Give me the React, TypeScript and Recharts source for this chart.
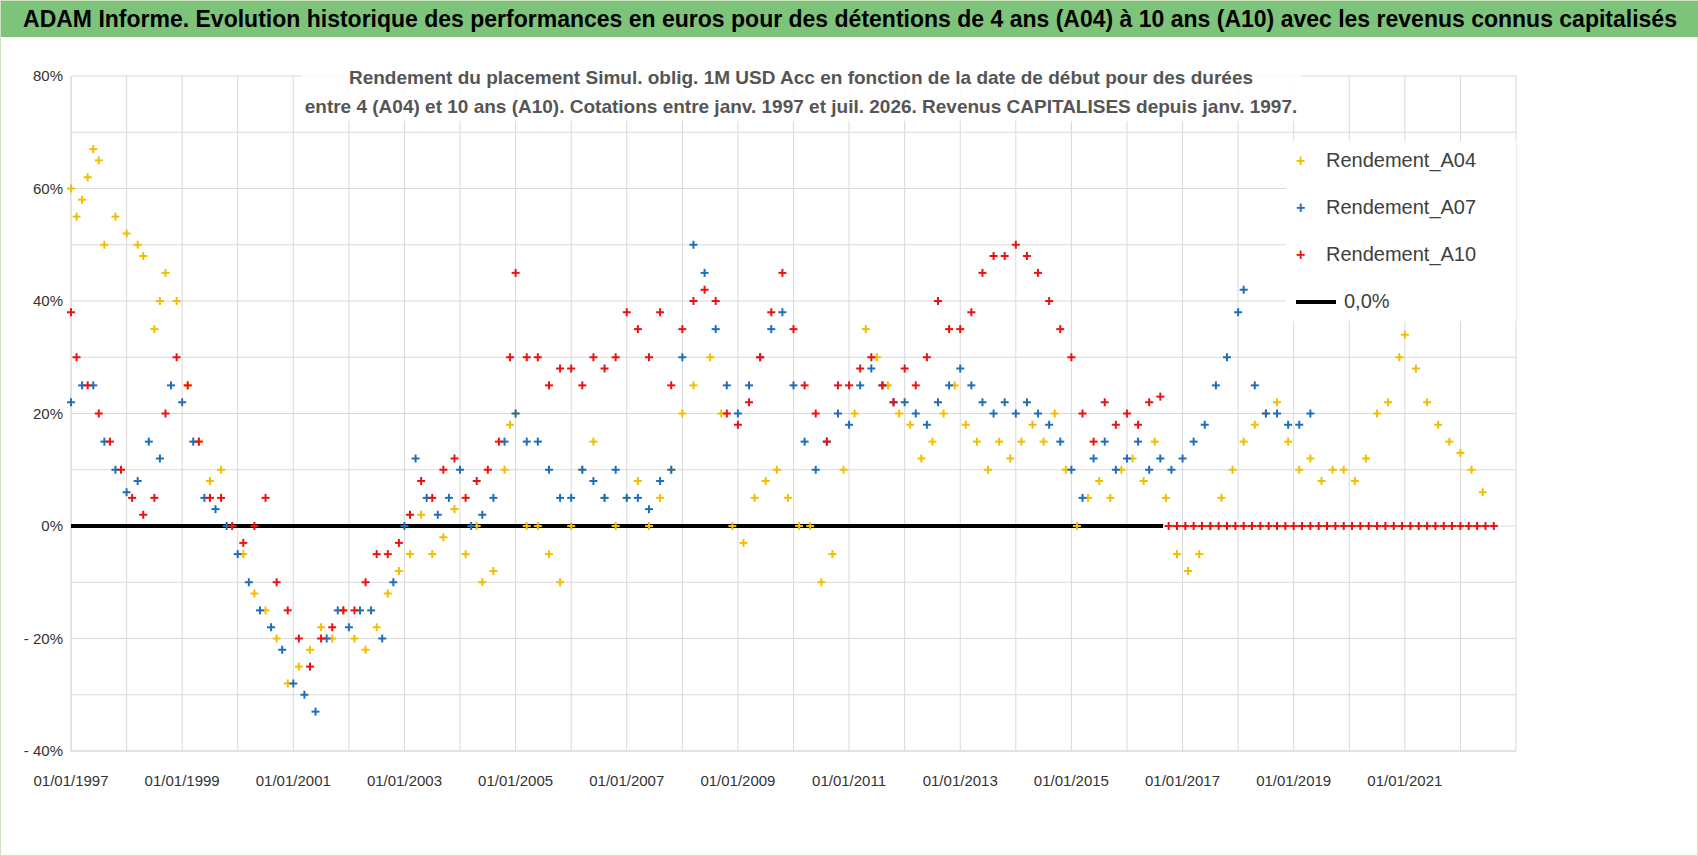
import React from 'react';
import { ScatterChart, Scatter, XAxis, YAxis, CartesianGrid } from 'recharts';

const a04X = [1997.0,1997.1,1997.2,1997.3,1997.4,1997.5,1997.6,1997.8,1998.0,1998.2,1998.3,1998.5,1998.6,1998.7,1998.9,1999.1,1999.3,1999.5,1999.7,1999.9,2000.1,2000.3,2000.5,2000.7,2000.9,2001.1,2001.3,2001.5,2001.7,2001.9,2002.1,2002.3,2002.5,2002.7,2002.9,2003.1,2003.3,2003.5,2003.7,2003.9,2004.1,2004.3,2004.4,2004.6,2004.8,2004.9,2005.0,2005.2,2005.4,2005.6,2005.8,2006.0,2006.2,2006.4,2006.6,2006.8,2007.0,2007.2,2007.4,2007.6,2007.8,2008.0,2008.2,2008.5,2008.7,2008.9,2009.1,2009.3,2009.5,2009.7,2009.9,2010.1,2010.3,2010.5,2010.7,2010.9,2011.1,2011.3,2011.5,2011.7,2011.9,2012.1,2012.3,2012.5,2012.7,2012.9,2013.1,2013.3,2013.5,2013.7,2013.9,2014.1,2014.3,2014.5,2014.7,2014.9,2015.1,2015.3,2015.5,2015.7,2015.9,2016.1,2016.3,2016.5,2016.7,2016.9,2017.1,2017.3,2017.5,2017.7,2017.9,2018.1,2018.3,2018.5,2018.7,2018.9,2019.1,2019.3,2019.5,2019.7,2019.9,2020.1,2020.3,2020.5,2020.7,2020.9,2021.0,2021.2,2021.4,2021.6,2021.8,2022.0,2022.2,2022.4];
const a04Y = [60,55,58,62,67,65,50,55,52,50,48,35,40,45,40,25,15,8,10,0,-5,-12,-15,-20,-28,-25,-22,-18,-20,-15,-20,-22,-18,-12,-8,-5,2,-5,-2,3,-5,0,-10,-8,10,18,20,0,0,-5,-10,0,10,15,5,0,5,8,0,5,10,20,25,30,20,0,-3,5,8,10,5,0,0,-10,-5,10,20,35,30,25,20,18,12,15,20,25,18,15,10,15,12,15,18,15,20,10,0,5,8,5,10,12,8,15,5,-5,-8,-5,0,5,10,15,18,20,22,15,10,12,8,10,10,8,12,20,22,30,34,28,22,18,15,13,10,6];

const a07X = [1997.0,1997.2,1997.4,1997.6,1997.8,1998.0,1998.2,1998.4,1998.6,1998.8,1999.0,1999.2,1999.4,1999.6,1999.8,2000.0,2000.2,2000.4,2000.6,2000.8,2001.0,2001.2,2001.4,2001.6,2001.8,2002.0,2002.2,2002.4,2002.6,2002.8,2003.0,2003.2,2003.4,2003.6,2003.8,2004.0,2004.2,2004.4,2004.6,2004.8,2005.0,2005.2,2005.4,2005.6,2005.8,2006.0,2006.2,2006.4,2006.6,2006.8,2007.0,2007.2,2007.4,2007.6,2007.8,2008.0,2008.2,2008.4,2008.6,2008.8,2009.0,2009.2,2009.4,2009.6,2009.8,2010.0,2010.2,2010.4,2010.6,2010.8,2011.0,2011.2,2011.4,2011.6,2011.8,2012.0,2012.2,2012.4,2012.6,2012.8,2013.0,2013.2,2013.4,2013.6,2013.8,2014.0,2014.2,2014.4,2014.6,2014.8,2015.0,2015.2,2015.4,2015.6,2015.8,2016.0,2016.2,2016.4,2016.6,2016.8,2017.0,2017.2,2017.4,2017.6,2017.8,2018.0,2018.1,2018.3,2018.5,2018.7,2018.9,2019.1,2019.3];
const a07Y = [22,25,25,15,10,6,8,15,12,25,22,15,5,3,0,-5,-10,-15,-18,-22,-28,-30,-33,-20,-15,-18,-15,-15,-20,-10,0,12,5,2,5,10,0,2,5,15,20,15,15,10,5,5,10,8,5,10,5,5,3,8,10,30,50,45,35,25,20,25,30,35,38,25,15,10,15,20,18,25,28,25,22,22,20,18,22,25,28,25,22,20,22,20,22,20,18,15,10,5,12,15,10,12,15,10,12,10,12,15,18,25,30,38,42,25,20,20,18,18,20];

const a10X = [1997.0,1997.1,1997.3,1997.5,1997.7,1997.9,1998.1,1998.3,1998.5,1998.7,1998.9,1999.1,1999.3,1999.5,1999.7,1999.9,2000.1,2000.3,2000.5,2000.7,2000.9,2001.1,2001.3,2001.5,2001.7,2001.9,2002.1,2002.3,2002.5,2002.7,2002.9,2003.1,2003.3,2003.5,2003.7,2003.9,2004.1,2004.3,2004.5,2004.7,2004.9,2005.0,2005.2,2005.4,2005.6,2005.8,2006.0,2006.2,2006.4,2006.6,2006.8,2007.0,2007.2,2007.4,2007.6,2007.8,2008.0,2008.2,2008.4,2008.6,2008.8,2009.0,2009.2,2009.4,2009.6,2009.8,2010.0,2010.2,2010.4,2010.6,2010.8,2011.0,2011.2,2011.4,2011.6,2011.8,2012.0,2012.2,2012.4,2012.6,2012.8,2013.0,2013.2,2013.4,2013.6,2013.8,2014.0,2014.2,2014.4,2014.6,2014.8,2015.0,2015.2,2015.4,2015.6,2015.8,2016.0,2016.2,2016.4,2016.6,
2016.75,2016.9,2017.05,2017.2,2017.35,2017.5,2017.65,2017.8,2017.95,2018.1,2018.25,2018.4,2018.55,2018.7,2018.85,2019.0,2019.15,2019.3,2019.45,2019.6,2019.75,2019.9,2020.05,2020.2,2020.35,2020.5,2020.65,2020.8,2020.95,2021.1,2021.25,2021.4,2021.55,2021.7,2021.85,2022.0,2022.15,2022.3,2022.45,2022.6];
const a10Y = [38,30,25,20,15,10,5,2,5,20,30,25,15,5,5,0,-3,0,5,-10,-15,-20,-25,-20,-18,-15,-15,-10,-5,-5,-3,2,8,5,10,12,5,8,10,15,30,45,30,30,25,28,28,25,30,28,30,38,35,30,38,25,35,40,42,40,20,18,22,30,38,45,35,25,20,15,25,25,28,30,25,22,28,25,30,40,35,35,38,45,48,48,50,48,45,40,35,30,20,15,22,18,20,18,22,23,
0,0,0,0,0,0,0,0,0,0,0,0,0,0,0,0,0,0,0,0,0,0,0,0,0,0,0,0,0,0,0,0,0,0,0,0,0,0,0,0];

const zeroX = [1997, 2016.65];
const zeroY = [0, 0];
const xTicks = [1997,1998,1999,2000,2001,2002,2003,2004,2005,2006,2007,2008,2009,2010,2011,2012,2013,2014,2015,2016,2017,2018,2019,2020,2021,2022,2023];
const yTicks = [-40,-30,-20,-10,0,10,20,30,40,50,60,70,80];

const zip = (xs: number[], ys: number[]) => xs.map((x, i) => ({ x, y: ys[i] }));

const plus = (color: string) => (p: any) => {
  const { cx, cy } = p;
  if (cx == null || cy == null) return <g />;
  return (
    <g stroke={color} strokeWidth={2}>
      <line x1={cx - 4} y1={cy} x2={cx + 4} y2={cy} />
      <line x1={cx} y1={cy - 4} x2={cx} y2={cy + 4} />
    </g>
  );
};

const font = "'Liberation Sans Narrow', 'Arial Narrow', 'Liberation Sans', sans-serif";

const fmtY = (v: number) => {
  if (v % 20 !== 0) return '';
  return v < 0 ? `- ${-v}%` : `${v}%`;
};
const fmtX = (v: number) => ((v - 1997) % 2 === 0 && v < 2023 ? `01/01/${v}` : '');

export default function App() {
  const legend = [
    { label: 'Rendement_A04', color: '#f5bd00' },
    { label: 'Rendement_A07', color: '#1f6fb8' },
    { label: 'Rendement_A10', color: '#ee1111' },
  ];
  return (
    <div style={{ position: 'absolute', left: 0, top: 0, width: 1698, height: 856, background: '#fff', fontFamily: font, border: '1px solid #cfe3c0', boxSizing: 'border-box' }}>
      <div style={{ position: 'absolute', left: 0, top: 0, width: 1698, height: 36, background: '#7dc47a', color: '#000', fontWeight: 'bold', fontSize: 23, textAlign: 'center', lineHeight: '36px' }}>
        ADAM Informe. Evolution historique des performances en euros pour des détentions de 4 ans (A04) à 10 ans (A10) avec les revenus connus capitalisés
      </div>
      <div style={{ position: 'absolute', left: 0, top: 36 }}>
        <ScatterChart width={1698} height={820} margin={{ top: 39, right: 183, left: 10, bottom: 76 }}>
          <CartesianGrid stroke="#d9d9d9" />
          <XAxis type="number" dataKey="x" domain={[1997, 2023]} ticks={xTicks} tickFormatter={fmtX} interval={0}
            tick={{ fontSize: 15, fill: '#333', fontFamily: font }} axisLine={{ stroke: '#d9d9d9' }} tickLine={false} tickMargin={18} />
          <YAxis type="number" dataKey="y" domain={[-40, 80]} ticks={yTicks} tickFormatter={fmtY} interval={0} width={60}
            tick={{ fontSize: 15, fill: '#333', fontFamily: font }} axisLine={{ stroke: '#d9d9d9' }} tickLine={false} />
          <Scatter data={zip(zeroX, zeroY)} line={{ stroke: '#000', strokeWidth: 4 }} shape={() => <g />} isAnimationActive={false} />
          <Scatter data={zip(a04X, a04Y)} shape={plus('#f5bd00')} isAnimationActive={false} />
          <Scatter data={zip(a07X, a07Y)} shape={plus('#1f6fb8')} isAnimationActive={false} />
          <Scatter data={zip(a10X, a10Y)} shape={plus('#ee1111')} isAnimationActive={false} />
        </ScatterChart>
      </div>
      <div style={{ position: 'absolute', left: 300, top: 62, width: 1000, textAlign: 'center', fontWeight: 'bold', fontSize: 19, color: '#555', lineHeight: '29px', background: 'rgba(255,255,255,0.85)' }}>
        Rendement du placement Simul. oblig. 1M USD Acc en fonction de la date de début pour des durées<br />
        entre 4 (A04) et 10 ans (A10). Cotations entre janv. 1997 et juil. 2026. Revenus CAPITALISES depuis janv. 1997.
      </div>
      <div style={{ position: 'absolute', left: 1285, top: 140, width: 230, height: 180, background: '#fff' }}>
        {legend.map((l, i) => (
          <div key={l.label} style={{ position: 'absolute', left: 10, top: 8 + i * 47, fontSize: 20, color: '#404040', display: 'flex', alignItems: 'center' }}>
            <span style={{ color: l.color, fontWeight: 'bold', width: 30, fontSize: 16 }}>+</span>{l.label}
          </div>
        ))}
        <div style={{ position: 'absolute', left: 10, top: 149, fontSize: 20, color: '#404040', display: 'flex', alignItems: 'center' }}>
          <span style={{ display: 'inline-block', width: 40, height: 4, background: '#000', marginRight: 8 }} />0,0%
        </div>
      </div>
    </div>
  );
}
